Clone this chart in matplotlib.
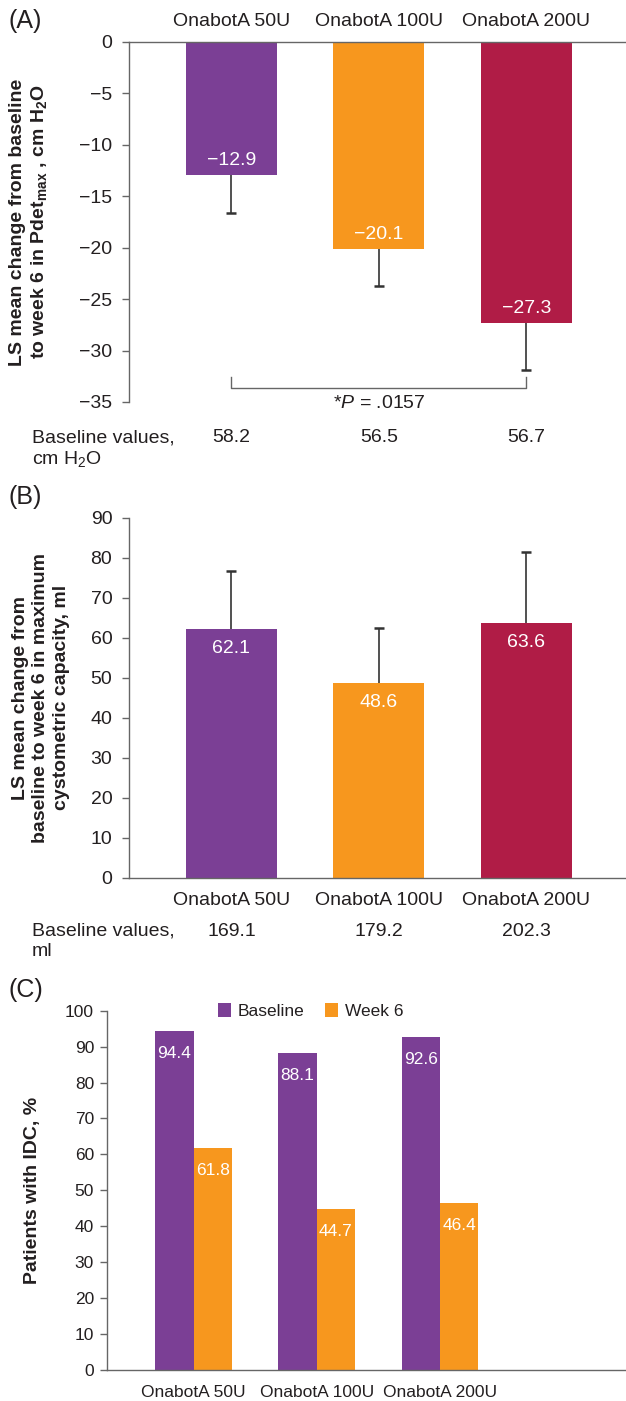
import matplotlib
matplotlib.use('Agg')
import matplotlib.pyplot as plt
import matplotlib.transforms as mtransforms

plt.rcParams['font.family'] = ['Liberation Sans', 'DejaVu Sans']
plt.rcParams['mathtext.fontset'] = 'custom'
plt.rcParams['mathtext.rm'] = 'Liberation Sans'
plt.rcParams['mathtext.it'] = 'Liberation Sans:italic'
plt.rcParams['mathtext.bf'] = 'Liberation Sans:bold'

# Data
doses = ['OnabotA 50U', 'OnabotA 100U', 'OnabotA 200U']
colors = ['#7B3F95', '#F7971E', '#B01C46']

pdet_change = [-12.9, -20.1, -27.3]
pdet_err = [3.7, 3.6, 4.6]
pdet_baseline = ['58.2', '56.5', '56.7']
p_value = '.0157'

mcc_change = [62.1, 48.6, 63.6]
mcc_err = [14.6, 13.9, 17.9]
mcc_baseline = ['169.1', '179.2', '202.3']

idc_baseline = [94.4, 88.1, 92.6]
idc_week6 = [61.8, 44.7, 46.4]

text_col = '#231F20'
spine_col = '#666666'
err_col = '#333333'

W, H = 626, 1401
fig = plt.figure(figsize=(W / 100, H / 100), dpi=100)


def fx(px):
    return px / W


def fy(py):
    return 1 - py / H


def style_axis(ax, size=14):
    for s in ax.spines.values():
        s.set_color(spine_col)
        s.set_linewidth(1.0)
    ax.tick_params(axis='y', colors=spine_col, labelcolor=text_col, labelsize=size,
                   length=5, width=1.0, pad=7)
    ax.tick_params(axis='x', length=0, labelcolor=text_col, labelsize=size)


x = list(range(3))
bw = 0.617

# ---------------- Panel A ----------------
axA = fig.add_axes([fx(129), fy(402), fx(626 - 129), 360 / H])
axA.bar(x, pdet_change, width=bw, color=colors, zorder=2)
lows = [v - e for v, e in zip(pdet_change, pdet_err)]
axA.vlines(x, pdet_change, lows, color=err_col, lw=1.2, zorder=1)
axA.plot(x, lows, ls='none', marker='_', ms=7, mew=1.8, color=err_col)
for xi, v in zip(x, pdet_change):
    axA.annotate(f'\u2212{abs(v):.1f}', (xi, v), xytext=(0, 10), textcoords='offset points',
                 ha='center', va='center', color='white', fontsize=14)
axA.set_ylim(-35, 0)
axA.set_xlim(-0.695, 2.675)
axA.set_yticks(range(-35, 1, 5))
axA.set_yticklabels([f'\u2212{abs(t)}' if t < 0 else str(t) for t in range(-35, 1, 5)])
axA.set_xticks(x)
axA.set_xticklabels(doses)
axA.xaxis.tick_top()
style_axis(axA)
axA.tick_params(axis='x', pad=9)
axA.spines['right'].set_visible(False)
axA.spines['bottom'].set_visible(False)
axA.set_ylabel('LS mean change from baseline\n'
               r'to week 6 in Pdet$_{\mathregular{max}}$ , cm H$_{\mathregular{2}}$O',
               fontsize=14, fontweight='bold', color=text_col, linespacing=1.25, va='center')
axA.yaxis.set_label_coords((29 - 129) / 497, 0.5)

# significance bracket
br_y, br_top = -33.6, -32.6
axA.plot([0, 0, 2, 2], [br_top, br_y, br_y, br_top], color=spine_col, lw=1.0, clip_on=False)
axA.text(1, -35.1, r'*$\mathit{P}$ = ' + p_value, ha='center', va='center',
         fontsize=14, color=text_col, clip_on=False)

tA = mtransforms.blended_transform_factory(axA.transData, fig.transFigure)
for xi, b in zip(x, pdet_baseline):
    fig.text(xi, fy(438), b, transform=tA, ha='center', va='center', fontsize=14, color=text_col)
fig.text(fx(32), fy(438), 'Baseline values,', ha='left', va='center', fontsize=14, color=text_col)
fig.text(fx(32), fy(459), r'cm H$_{\mathregular{2}}$O', ha='left', va='center', fontsize=14,
         color=text_col)
fig.text(fx(8), fy(21), '(A)', ha='left', va='center', fontsize=18, color=text_col)

# ---------------- Panel B ----------------
axB = fig.add_axes([fx(129), fy(877.7), fx(626 - 129), 360 / H])
axB.bar(x, mcc_change, width=bw, color=colors, zorder=2)
highs = [v + e for v, e in zip(mcc_change, mcc_err)]
axB.vlines(x, mcc_change, highs, color=err_col, lw=1.2, zorder=1)
axB.plot(x, highs, ls='none', marker='_', ms=7, mew=1.8, color=err_col)
for xi, v in zip(x, mcc_change):
    axB.annotate(f'{v:.1f}', (xi, v), xytext=(0, -14), textcoords='offset points',
                 ha='center', va='center', color='white', fontsize=14)
axB.set_ylim(0, 90)
axB.set_xlim(-0.695, 2.675)
axB.set_yticks(range(0, 91, 10))
axB.set_xticks(x)
axB.set_xticklabels(doses)
style_axis(axB)
axB.tick_params(axis='x', pad=10)
axB.spines['right'].set_visible(False)
axB.spines['top'].set_visible(False)
axB.set_ylabel('LS mean change from\nbaseline to week 6 in maximum\ncystometric capacity, ml',
               fontsize=14, fontweight='bold', color=text_col, linespacing=1.25, va='center')
axB.yaxis.set_label_coords((41 - 129) / 497, 0.5)

tB = mtransforms.blended_transform_factory(axB.transData, fig.transFigure)
for xi, b in zip(x, mcc_baseline):
    fig.text(xi, fy(931), b, transform=tB, ha='center', va='center', fontsize=14, color=text_col)
fig.text(fx(32), fy(931), 'Baseline values,', ha='left', va='center', fontsize=14, color=text_col)
fig.text(fx(32), fy(952), 'ml', ha='left', va='center', fontsize=14, color=text_col)
fig.text(fx(8), fy(497), '(B)', ha='left', va='center', fontsize=18, color=text_col)

# ---------------- Panel C ----------------
axC = fig.add_axes([fx(107.3), fy(1370), fx(626 - 107.3), 359.3 / H])
cw = 0.311
xb = [xi - cw / 2 for xi in x]
xw = [xi + cw / 2 for xi in x]
axC.bar(xb, idc_baseline, width=cw, color=colors[0], label='Baseline')
axC.bar(xw, idc_week6, width=cw, color=colors[1], label='Week 6')
for xi, v in list(zip(xb, idc_baseline)) + list(zip(xw, idc_week6)):
    axC.annotate(f'{v:.1f}', (xi, v), xytext=(0, -16), textcoords='offset points',
                 ha='center', va='center', color='white', fontsize=12.5)
axC.set_ylim(0, 100)
axC.set_xlim(-0.70, 3.51)
axC.set_yticks(range(0, 101, 10))
axC.set_xticks(x)
axC.set_xticklabels(doses)
style_axis(axC, size=12.5)
axC.tick_params(axis='y', pad=4.5)
axC.tick_params(axis='x', pad=11)
axC.spines['right'].set_visible(False)
axC.spines['top'].set_visible(False)
axC.set_ylabel('Patients with IDC, %', fontsize=14, fontweight='bold', color=text_col,
               va='center')
axC.yaxis.set_label_coords((33 - 107.3) / 518.7, 0.5)
leg = axC.legend(loc='center', bbox_to_anchor=((310.5 - 107.3) / 518.7, 1.0), ncol=2,
                 frameon=False, prop={'size': 12.5},
                 handlelength=0.75, handleheight=0.9, handletextpad=0.4, columnspacing=1.15)
for t in leg.get_texts():
    t.set_color(text_col)
fig.text(fx(8), fy(990), '(C)', ha='left', va='center', fontsize=18, color=text_col)

fig.savefig('out.png', dpi=100)
